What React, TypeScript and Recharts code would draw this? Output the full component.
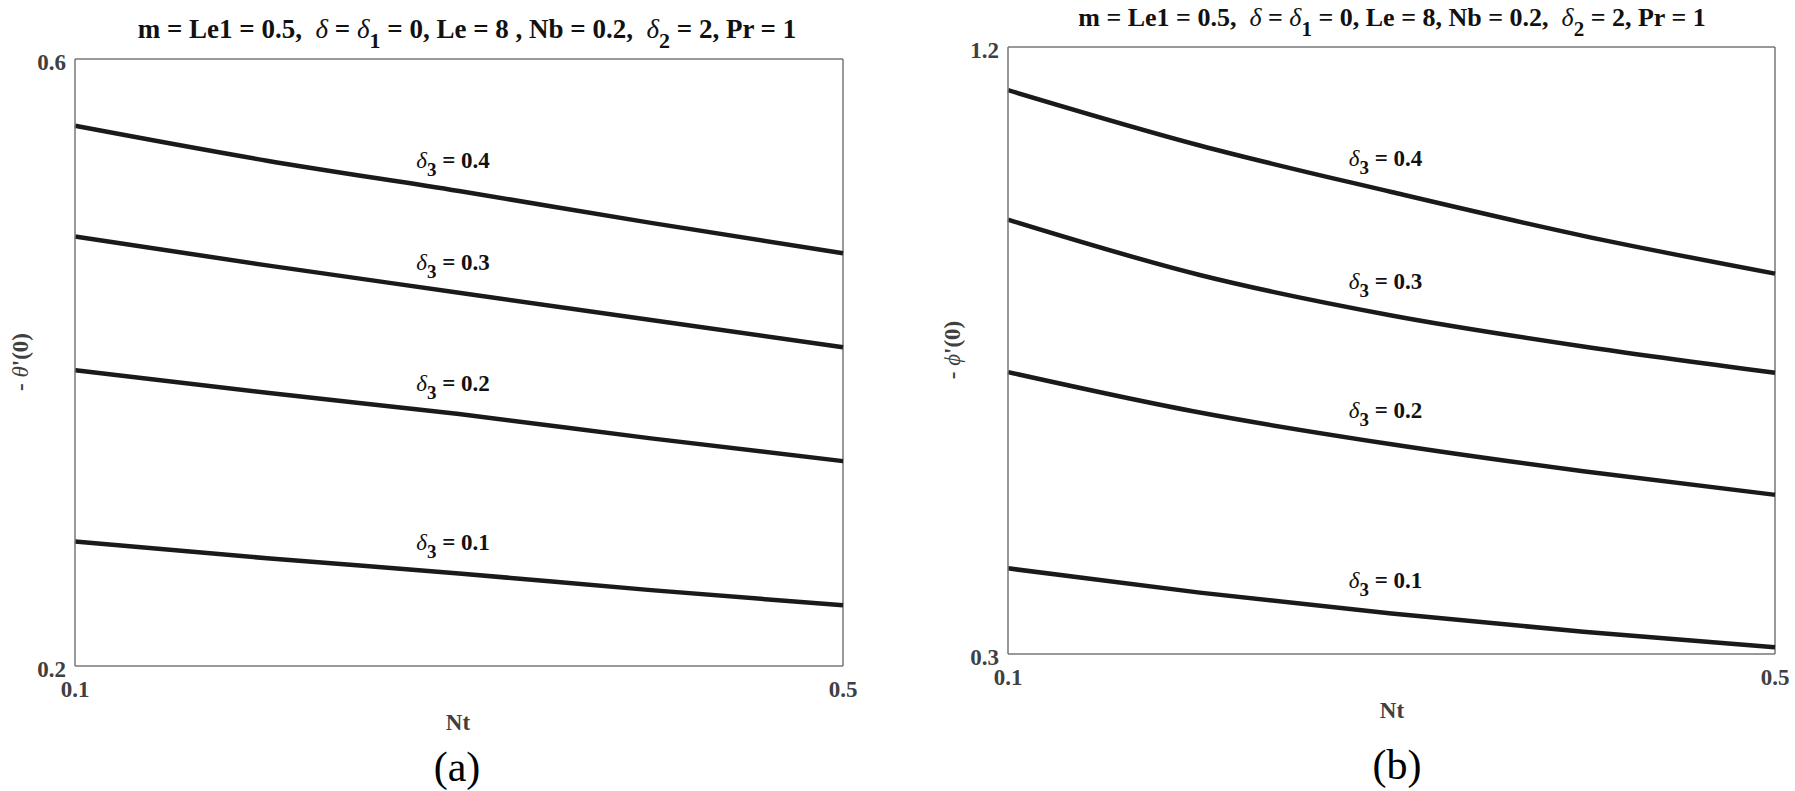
import React from 'react';
import { LineChart, Line, XAxis, YAxis, ReferenceLine } from 'recharts';

// Nt values on the horizontal axis (both panels)
const ntValues = [0.1, 0.2, 0.3, 0.4, 0.5];

// panel (a): -theta'(0)
const thetaD01 = [0.282, 0.271, 0.261, 0.25, 0.24];
const thetaD02 = [0.395, 0.38, 0.366, 0.35, 0.335];
const thetaD03 = [0.483, 0.464, 0.446, 0.428, 0.41];
const thetaD04 = [0.556, 0.533, 0.513, 0.492, 0.472];

// panel (b): -phi'(0)
const phiD01 = [0.427, 0.391, 0.36, 0.333, 0.31];
const phiD02 = [0.718, 0.658, 0.611, 0.571, 0.536];
const phiD03 = [0.944, 0.862, 0.802, 0.756, 0.717];
const phiD04 = [1.136, 1.054, 0.985, 0.92, 0.864];

const xTicks = [0.1, 0.5];
const thetaTicks = [0.2, 0.6];
const phiTicks = [0.3, 1.2];
const deltaLabels = ['0.1', '0.2', '0.3', '0.4'];

const thetaData = ntValues.map((nt, i) => ({
    nt,
    d1: thetaD01[i],
    d2: thetaD02[i],
    d3: thetaD03[i],
    d4: thetaD04[i],
}));

const phiData = ntValues.map((nt, i) => ({
    nt,
    d1: phiD01[i],
    d2: phiD02[i],
    d3: phiD03[i],
    d4: phiD04[i],
}));

const FONT = '"Liberation Serif", "Times New Roman", serif';
const AXIS = '#777777';
const TICK = '#404040';

const XTick = ({ x, y, payload }: any) => (
    <text x={x} y={y + 23} textAnchor="middle" dominantBaseline="central"
        fontFamily={FONT} fontWeight="bold" fontSize={23} fill={TICK}>
        {payload.value}
    </text>
);

const YTick = ({ x, y, payload }: any) => (
    <text x={x - 9} y={y + 3} textAnchor="end" dominantBaseline="central"
        fontFamily={FONT} fontWeight="bold" fontSize={23} fill={TICK}>
        {payload.value}
    </text>
);

// label "δ3 = 0.x" drawn above the middle point of a curve
const curveLabel = (text: string, lift: number) => (props: any) => {
    const { x, y, index } = props;
    if (index !== 2) return null;
    return (
        <text key={text} x={x - 6} y={y - lift} textAnchor="middle" dominantBaseline="central"
            fontFamily={FONT} fontWeight="bold" fontSize={23} fill="#111" style={{ whiteSpace: 'pre' }}>
            <tspan fontStyle="italic" fontWeight="normal">δ</tspan>
            <tspan dy={9} fontSize={19}>3</tspan>
            <tspan dy={-9}>{' = ' + text}</tspan>
        </text>
    );
};

const Title = ({ x, y, le, size }: { x: number; y: number; le: string; size: number }) => (
    <text x={x} y={y} textAnchor="middle" fontFamily={FONT} fontWeight="bold" fontSize={size}
        fill="#111" style={{ whiteSpace: 'pre' }}>
        {'m = Le1 = 0.5,  '}
        <tspan fontStyle="italic" fontWeight="normal">δ</tspan>
        {' = '}
        <tspan fontStyle="italic" fontWeight="normal">δ</tspan>
        <tspan dy={10} fontSize={size - 5}>1</tspan>
        <tspan dy={-10}>{' = 0, ' + le + ' Nb = 0.2,  '}</tspan>
        <tspan fontStyle="italic" fontWeight="normal">δ</tspan>
        <tspan dy={10} fontSize={size - 5}>2</tspan>
        <tspan dy={-10}>{' = 2, Pr = 1'}</tspan>
    </text>
);

const YLabel = ({ x, y, sym }: { x: number; y: number; sym: string }) => (
    <text transform={`translate(${x},${y}) rotate(-90)`} textAnchor="middle" dominantBaseline="central"
        fontFamily={FONT} fontWeight="bold" fontSize={23} fill={TICK} style={{ whiteSpace: 'pre' }}>
        {'- '}
        <tspan fontStyle="italic" fontWeight="normal">{sym}</tspan>
        {"'(0)"}
    </text>
);

const series = ['d1', 'd2', 'd3', 'd4'];

export default function App() {
    return (
        <div style={{ position: 'absolute', left: 0, top: 0, width: 1795, height: 791, background: '#fff' }}>
            <div style={{ position: 'absolute', left: 0, top: 0 }}>
                <LineChart width={900} height={791} data={thetaData}
                    margin={{ top: 59, right: 57, bottom: 85, left: 15 }}>
                    <XAxis type="number" dataKey="nt" domain={[0.1, 0.5]} ticks={xTicks} height={40}
                        tickLine={false} tickSize={0} tickMargin={0} tick={<XTick />}
                        axisLine={{ stroke: AXIS, strokeWidth: 1.5 }} />
                    <YAxis type="number" domain={[0.2, 0.6]} ticks={thetaTicks} width={60}
                        tickLine={false} tickSize={0} tickMargin={0} tick={<YTick />}
                        axisLine={{ stroke: AXIS, strokeWidth: 1.5 }} />
                    <ReferenceLine y={0.6} stroke={AXIS} strokeWidth={1.5} />
                    <ReferenceLine x={0.5} stroke={AXIS} strokeWidth={1.5} />
                    {series.map((key, i) => (
                        <Line key={key} type="monotone" dataKey={key} stroke="#1a1a1a" strokeWidth={4.5}
                            dot={false} isAnimationActive={false} label={curveLabel(deltaLabels[i], 31)} />
                    ))}
                    <Title x={467} y={38} le="Le = 8 ," size={27} />
                    <YLabel x={20} y={362} sym="θ" />
                    <text x={458} y={722} textAnchor="middle" dominantBaseline="central"
                        fontFamily={FONT} fontWeight="bold" fontSize={23} fill={TICK}>Nt</text>
                    <text x={457} y={767} textAnchor="middle" dominantBaseline="central"
                        fontFamily={FONT} fontSize={42} fill="#000">(a)</text>
                </LineChart>
            </div>
            <div style={{ position: 'absolute', left: 900, top: 0 }}>
                <LineChart width={895} height={791} data={phiData}
                    margin={{ top: 47, right: 20, bottom: 97, left: 48 }}>
                    <XAxis type="number" dataKey="nt" domain={[0.1, 0.5]} ticks={xTicks} height={40}
                        tickLine={false} tickSize={0} tickMargin={0} tick={<XTick />}
                        axisLine={{ stroke: AXIS, strokeWidth: 1.5 }} />
                    <YAxis type="number" domain={[0.3, 1.2]} ticks={phiTicks} width={60}
                        tickLine={false} tickSize={0} tickMargin={0} tick={<YTick />}
                        axisLine={{ stroke: AXIS, strokeWidth: 1.5 }} />
                    <ReferenceLine y={1.2} stroke={AXIS} strokeWidth={1.5} />
                    <ReferenceLine x={0.5} stroke={AXIS} strokeWidth={1.5} />
                    {series.map((key, i) => (
                        <Line key={key} type="monotone" dataKey={key} stroke="#1a1a1a" strokeWidth={4.5}
                            dot={false} isAnimationActive={false} label={curveLabel(deltaLabels[i], 34)} />
                    ))}
                    <Title x={492} y={26} le="Le = 8," size={26} />
                    <YLabel x={52} y={350} sym="ϕ" />
                    <text x={492} y={710} textAnchor="middle" dominantBaseline="central"
                        fontFamily={FONT} fontWeight="bold" fontSize={23} fill={TICK}>Nt</text>
                    <text x={497} y={765} textAnchor="middle" dominantBaseline="central"
                        fontFamily={FONT} fontSize={42} fill="#000">(b)</text>
                </LineChart>
            </div>
        </div>
    );
}
